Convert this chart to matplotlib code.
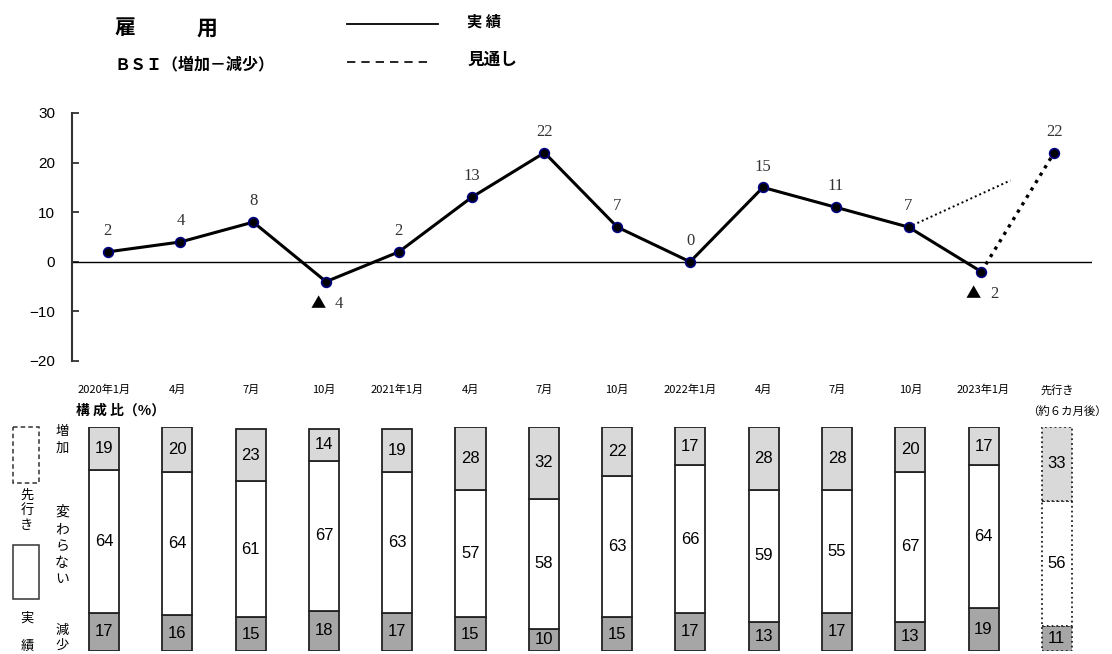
import numpy as np
import matplotlib
matplotlib.use('Agg')
import matplotlib.pyplot as plt
from matplotlib.patches import Rectangle

plt.rcParams['font.family'] = ['Noto Sans CJK JP', 'DejaVu Sans']

# data
periods = ['2020年1月', '4月', '7月', '10月', '2021年1月', '4月', '7月', '10月',
           '2022年1月', '4月', '7月', '10月', '2023年1月', '先行き']
bsi = [2, 4, 8, -4, 2, 13, 22, 7, 0, 15, 11, 7, -2]
bsi_outlook = 22
old_outlook = [(11, 7), (12.4, 16.4)]   # dotted stub from Oct-2022
increase = [19, 20, 23, 14, 19, 28, 32, 22, 17, 28, 28, 20, 17, 33]
unchanged = [64, 64, 61, 67, 63, 57, 58, 63, 66, 59, 55, 67, 64, 56]
decrease = [17, 16, 15, 18, 17, 15, 10, 15, 17, 13, 17, 13, 19, 11]

W, H = 1112, 654
fig = plt.figure(figsize=(W / 100, H / 100), dpi=100)

def rect(l, t, r, b):
    return [l / W, 1 - b / H, (r - l) / W, (b - t) / H]

# ---- BSI line chart
ax = fig.add_axes(rect(72, 113, 1092, 361))
x = np.arange(len(bsi))
ax.plot(x, bsi, color='black', lw=2.2, zorder=3)
n = len(bsi)
ax.plot([n - 1, n], [bsi[-1], bsi_outlook], color='black', lw=2.4,
        linestyle=(0, (1, 1.6)), zorder=3)
ax.plot([p[0] for p in old_outlook], [p[1] for p in old_outlook], color='black',
        lw=1.4, linestyle=(0, (1, 1.5)), zorder=3)
ax.plot(list(x) + [n], bsi + [bsi_outlook], 'o', ms=7, mfc='black', mec='#000080',
        mew=1.2, zorder=4)
ax.axhline(0, color='black', lw=1)
serif = ['Liberation Serif', 'DejaVu Serif']
for i, v in enumerate(bsi + [bsi_outlook]):
    if v >= 0:
        ax.annotate(str(v), (i, v), xytext=(0, 15), textcoords='offset points',
                    ha='center', va='center', fontsize=12, color='#333333',
                    family=serif)
    else:
        ax.annotate('▲', (i, v), xytext=(-6, -16), textcoords='offset points',
                    ha='center', va='center', fontsize=11, color='black')
        ax.annotate(str(-v), (i, v), xytext=(9.5, -16), textcoords='offset points',
                    ha='center', va='center', fontsize=12, color='#333333',
                    family=serif)
ax.set_xlim(-0.489, 13.52)
ax.set_ylim(-20, 30)
ax.set_yticks([-20, -10, 0, 10, 20, 30])
ax.set_yticklabels(['−20', '−10', '0', '10', '20', '30'], fontsize=11,
                   family=['Liberation Sans', 'DejaVu Sans'])
ax.tick_params(axis='y', direction='in', length=5, width=1.3, pad=12, color='#333333')
ax.set_xticks([])
for s in ['top', 'right', 'bottom']:
    ax.spines[s].set_visible(False)
ax.spines['left'].set_linewidth(1.5)
ax.spines['left'].set_color('#333333')
ax.patch.set_alpha(0)

# ---- composition bars
axb = fig.add_axes(rect(72, 427, 1092, 651))
xb = np.arange(len(increase))
dec = np.array(decrease)
unc = np.array(unchanged)
inc = np.array(increase)
colors = ['#a6a6a6', 'white', '#d9d9d9']
act = slice(0, len(xb) - 1)
fc = slice(len(xb) - 1, len(xb))
for sl, ls in [(act, '-'), (fc, ':')]:
    axb.bar(xb[sl], dec[sl], width=0.41, color=colors[0], edgecolor='#222222',
            lw=1.3, linestyle=ls)
    axb.bar(xb[sl], unc[sl], bottom=dec[sl], width=0.41, color=colors[1],
            edgecolor='#222222', lw=1.3, linestyle=ls)
    axb.bar(xb[sl], inc[sl], bottom=(dec + unc)[sl], width=0.41, color=colors[2],
            edgecolor='#222222', lw=1.3, linestyle=ls)
numfont = ['Liberation Sans Narrow', 'Liberation Sans', 'DejaVu Sans']
for i in xb:
    axb.text(i, dec[i] / 2, str(dec[i]), ha='center', va='center', fontsize=12,
             family=numfont)
    axb.text(i, dec[i] + unc[i] / 2, str(unc[i]), ha='center', va='center',
             fontsize=12, family=numfont)
    axb.text(i, dec[i] + unc[i] + inc[i] / 2, str(inc[i]), ha='center', va='center',
             fontsize=12, family=numfont)
axb.set_xlim(-0.437, 13.48)
axb.set_ylim(0, 100)
axb.axis('off')

# ---- overlay in pixel coordinates for labels / legends
ov = fig.add_axes([0, 0, 1, 1])
ov.set_xlim(0, W)
ov.set_ylim(H, 0)
ov.axis('off')

bx0, bstep = 104, 73.3
for i, lab in enumerate(periods):
    ov.text(bx0 + bstep * i, 390, lab, ha='center', va='center', fontsize=8)
ov.text(1027, 411, '（約６カ月後）', ha='left', va='center', fontsize=8.2)
ov.text(76, 411, '構 成 比（%）', ha='left', va='center', fontsize=10,
        fontweight='bold')

# header legend
ov.text(114, 28, '雇', ha='left', va='center', fontsize=15, fontweight='bold')
ov.text(197, 28, '用', ha='left', va='center', fontsize=15, fontweight='bold')
ov.text(114, 64, 'ＢＳＩ（増加－減少）', ha='left', va='center', fontsize=11.5,
        fontweight='bold')
ov.plot([347, 438], [24, 24], color='black', lw=1.3)
ov.plot([347, 433], [62, 62], color='black', lw=1.2, linestyle=(0, (5, 3.6)))
ov.text(467, 22, '実 績', ha='left', va='center', fontsize=11, fontweight='bold')
ov.text(467, 60, '見通し', ha='left', va='center', fontsize=12, fontweight='bold')

# left side legend for bars
ov.add_patch(Rectangle((13, 427), 26, 56, fill=False, edgecolor='#333333', lw=1.1,
                       linestyle=(0, (3, 2))))
ov.add_patch(Rectangle((13, 545), 26, 54, fill=False, edgecolor='#333333', lw=1.1))

def vtext(xc, ys, chars, size=9.5):
    for yy, ch in zip(ys, chars):
        ov.text(xc, yy, ch, ha='center', va='center', fontsize=size)

vtext(27, [495, 510, 525], '先行き')
vtext(27, [618, 646], '実績')
vtext(62, [431, 448], '増加')
vtext(62, [512, 529, 546, 563, 579], '変わらない', size=10)
vtext(62, [630, 645], '減少')

fig.savefig('out.png', dpi=100)
